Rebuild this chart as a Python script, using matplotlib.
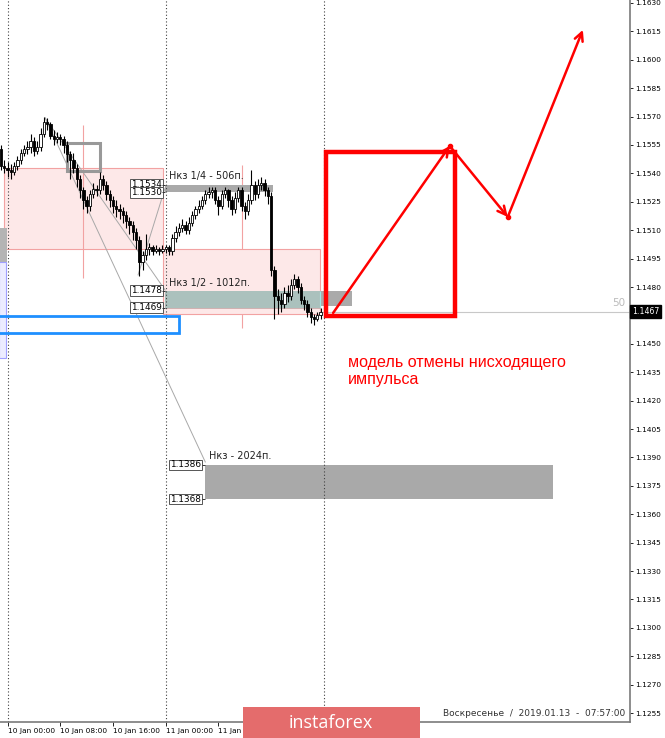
import matplotlib
matplotlib.use("Agg")
import matplotlib.pyplot as plt
from matplotlib.patches import Rectangle
import matplotlib.transforms as mtransforms
import numpy as np

# ---------------- data ----------------
# M30 candles, time in hours from 10 Jan 00:00
bar_start_hour = -1.0
bar_step_hours = 0.5
first_open = 1.1553
closes = [1.1544,1.1543,1.1542,1.1541,1.1544,1.1547,1.1551,1.1553,1.1554,1.1557,
          1.1552,1.1554,1.1561,1.1567,1.1566,1.1560,1.1558,1.1559,1.1558,1.1555,
          1.1550,1.1547,1.1543,1.1537,1.1531,1.1526,1.1523,1.1529,1.1532,1.1531,
          1.1537,1.1534,1.1529,1.1526,1.1523,1.1521,1.1520,1.1518,1.1515,1.1513,
          1.1509,1.1505,1.1493,1.1497,1.1500,1.1501,1.1499,1.1500,1.1499,1.1500,
          1.1501,1.1499,1.1506,1.1509,1.1511,1.1513,1.1510,1.1514,1.1518,1.1521,
          1.1523,1.1526,1.1529,1.1530,1.1531,1.1526,1.1523,1.1529,1.1531,1.1526,
          1.1521,1.1527,1.1531,1.1523,1.1520,1.1526,1.1534,1.1529,1.1534,1.1535,
          1.1531,1.1528,1.1489,1.1475,1.1473,1.1471,1.1477,1.1475,1.1481,1.1484,
          1.1480,1.1473,1.1471,1.1467,1.1464,1.1463,1.1465,1.1467]
highs = [1.1555,1.1547,1.1546,1.1545,1.1546,1.1549,1.1553,1.1555,1.1557,1.1561,
         1.1559,1.1557,1.1564,1.1570,1.1569,1.1567,1.1563,1.1562,1.1561,1.1560,
         1.1557,1.1552,1.1551,1.1545,1.1539,1.1533,1.1528,1.1531,1.1535,1.1534,
         1.1541,1.1539,1.1536,1.1531,1.1528,1.1526,1.1524,1.1522,1.1520,1.1517,
         1.1515,1.1511,1.1507,1.1499,1.1508,1.1503,1.1502,1.1502,1.1501,1.1502,
         1.1502,1.1502,1.1508,1.1512,1.1514,1.1516,1.1515,1.1517,1.1520,1.1523,
         1.1526,1.1528,1.1531,1.1533,1.1533,1.1533,1.1528,1.1531,1.1533,1.1532,
         1.1528,1.1530,1.1533,1.1533,1.1525,1.1529,1.1542,1.1536,1.1537,1.1538,
         1.1537,1.1533,1.1530,1.1491,1.1479,1.1477,1.1480,1.1481,1.1484,1.1487,
         1.1486,1.1482,1.1475,1.1473,1.1469,1.1466,1.1467,1.1469]
lows = [1.1542,1.1540,1.1538,1.1537,1.1539,1.1542,1.1545,1.1549,1.1550,1.1551,
        1.1549,1.1550,1.1552,1.1559,1.1563,1.1558,1.1555,1.1556,1.1555,1.1551,
        1.1546,1.1537,1.1540,1.1533,1.1527,1.1521,1.1519,1.1520,1.1527,1.1528,
        1.1529,1.1531,1.1526,1.1522,1.1519,1.1517,1.1516,1.1514,1.1511,1.1508,
        1.1505,1.1500,1.1486,1.1489,1.1494,1.1497,1.1497,1.1498,1.1497,1.1498,
        1.1498,1.1497,1.1497,1.1504,1.1507,1.1509,1.1508,1.1508,1.1512,1.1516,
        1.1519,1.1521,1.1524,1.1527,1.1527,1.1524,1.1518,1.1521,1.1527,1.1522,
        1.1518,1.1519,1.1525,1.1520,1.1516,1.1518,1.1524,1.1526,1.1527,1.1531,
        1.1528,1.1524,1.1486,1.1463,1.1466,1.1467,1.1469,1.1472,1.1473,1.1479,
        1.1477,1.1471,1.1468,1.1464,1.1461,1.1460,1.1462,1.1463]

price_ticks = [1.1255,1.1270,1.1285,1.1300,1.1315,1.1330,1.1345,1.1360,1.1375,1.1390,
               1.1405,1.1420,1.1435,1.1450,1.1465,1.1480,1.1495,1.1510,1.1525,1.1540,
               1.1555,1.1570,1.1585,1.1600,1.1615,1.1630]
time_ticks = [0, 8, 16, 24, 32]
time_labels = ["10 Jan 00:00", "10 Jan 08:00", "10 Jan 16:00", "11 Jan 00:00", "11 Jan 08:00"]
day_separators = [0, 24, 48]
current_price = 1.1467

level_q = (1.1534, 1.1530)     # Нкз 1/4
level_h = (1.1478, 1.1469)     # Нкз 1/2
level_f = (1.1386, 1.1368)     # Нкз
zone_upper = (1.1543, 1.1500)
zone_lower = (1.1500, 1.14658)

# red forecast path (hour, price)
path_h = [49.4, 67.1, 75.9, 87.3]
path_p = [1.14663, 1.15545, 1.15170, 1.16158]

# ---------------- figure ----------------
W, H = 665, 738
fig = plt.figure(figsize=(W/100, H/100), dpi=100)
ax = fig.add_axes([0, 16/H, 630/W, 722/H])
ax.set_xlim(-1.15, 94.45)
ax.set_ylim(1.125026, 1.163158)
ax.set_facecolor("white")

n = len(closes)
times = bar_start_hour + bar_step_hours*np.arange(n)
opens = np.array([first_open] + closes[:-1])
closes_a = np.array(closes)

pink_fill = "#fde8e8"
pink_edge = "#f2a2a2"

# zones
ax.add_patch(Rectangle((-0.5, zone_upper[1]), 24.1, zone_upper[0]-zone_upper[1],
                       fc=pink_fill, ec=pink_edge, lw=0.8, zorder=1))
ax.vlines(11.4, 1.14848, 1.15656, color=pink_edge, lw=0.8, zorder=1.5)
ax.vlines(35.6, 1.14584, 1.15445, color=pink_edge, lw=0.8, zorder=1.2)
ax.add_patch(Rectangle((23.6, zone_lower[1]), 23.8, zone_lower[0]-zone_lower[1],
                       fc=pink_fill, ec=pink_edge, lw=0.8, zorder=1.6))

# left-edge objects
ax.add_patch(Rectangle((-1.3, 1.14932), 1.15, 1.15112-1.14932, fc="#b4b4b4", ec="none", zorder=1.7))
ax.add_patch(Rectangle((-1.3, 1.14425), 1.0, 1.14932-1.14425, fc="#ececff", ec="#a0a0ff", lw=0.8, zorder=1.7))

# bands
ax.add_patch(Rectangle((23.9, level_q[1]), 16.4, level_q[0]-level_q[1], fc="#a9a9a9", ec="none", zorder=2))
ax.add_patch(Rectangle((47.4, 1.1470), 4.9, level_h[0]-1.1470, fc="#aaaaaa", ec="none", zorder=2))
ax.add_patch(Rectangle((23.9, level_h[1]), 23.5, level_h[0]-level_h[1], fc="#abc1bd", ec="none", zorder=2))
ax.vlines(47.4, level_h[1], level_h[0], color="#9ee8e8", lw=0.8, zorder=2.1)
ax.hlines(level_h[1], 23.9, 47.4, color="#c8a8a8", lw=0.6, zorder=2.1)
ax.add_patch(Rectangle((30.0, level_f[1]), 52.8, level_f[0]-level_f[1], fc="#a9a9a9", ec="none", zorder=2))

# current price line
ax.hlines(current_price, 47.4, 94.45, color="#c8c8c8", lw=0.8, zorder=2)

# day separators
ax.vlines(day_separators, 1.1250, 1.1632, color="#404040", lw=0.8, linestyles=(0, (1, 2)), zorder=2.5)

# gray diagonal lines
gl = dict(color="#a8a8a8", lw=0.7, zorder=2.6)
ax.plot([5.7, 30.0], [1.15693, 1.13876], **gl)
ax.plot([5.7, 23.9], [1.15693, 1.14784], **gl)
ax.plot([19.8, 23.9], [1.14864, 1.15323], **gl)

# blue rectangle
ax.add_patch(Rectangle((-2.0, 1.14557), 28.0, 1.14647-1.14557, fc="none", ec="#1e8fff", lw=2.0, zorder=3))

# gray box
ax.add_patch(Rectangle((9.0, 1.15413), 5.0, 1.15561-1.15413, fc="none", ec="#999999", lw=2.2, zorder=3))

# candles
ax.vlines(times, lows, highs, color="black", lw=0.8, zorder=4)
bottoms = np.minimum(opens, closes_a)
heights = np.maximum(np.abs(closes_a-opens), 0.00004)
colors = ["white" if c > o else "black" for o, c in zip(opens, closes_a)]
ax.bar(times, heights, bottom=bottoms, width=0.36, color=colors, edgecolor="black",
       linewidth=0.6, zorder=5)

# level labels
lab = dict(fontsize=6.4, ha="right", va="center", zorder=6, family="DejaVu Sans",
           bbox=dict(boxstyle="square,pad=0.1", fc="white", ec="#555555", lw=0.7))
for p in level_q + level_h:
    ax.text(23.4, p, f"{p:.4f}", **lab)
    ax.hlines(p, 23.5, 23.9, color="#333333", lw=0.7, zorder=6)
for p in level_f:
    ax.text(29.4, p, f"{p:.4f}", **lab)
    ax.hlines(p, 29.5, 30.0, color="#333333", lw=0.7, zorder=6)

tk = dict(fontsize=7, va="center", ha="left", color="#222222", zorder=6)
ax.text(24.5, 1.15387, "Нкз 1/4 - 506п.", **tk)
ax.text(24.5, 1.14821, "Нкз 1/2 - 1012п.", **tk)
ax.text(30.6, 1.13908, "Нкз - 2024п.", **tk)

# red model box and arrows
ax.add_patch(Rectangle((48.3, 1.14648), 67.9-48.3, 1.15513-1.14648, fc="none", ec="#ff0000", lw=3.2, zorder=7))
for i in range(len(path_h)-1):
    ax.annotate("", xy=(path_h[i+1], path_p[i+1]), xytext=(path_h[i], path_p[i]),
                arrowprops=dict(arrowstyle="->,head_length=0.6,head_width=0.3", color="#ff0000",
                                lw=1.8, shrinkA=0, shrinkB=0), zorder=8)
ax.plot(path_h[1:3], path_p[1:3], "o", color="#ff0000", ms=3, zorder=8)

ax.text(51.65, 1.14440, "модель отмены нисходящего\nимпульса", fontsize=11.6, color="#ff0000",
        family="Liberation Sans", va="top", ha="left", linespacing=1.12, zorder=8)

ax.text(93.8, 1.14716, "50", fontsize=7.5, color="#bbbbbb", ha="right", va="center", zorder=6)

# axes styling
for s in ["top", "left"]:
    ax.spines[s].set_visible(False)
for s in ["right", "bottom"]:
    ax.spines[s].set_color("#7a7a7a")
    ax.spines[s].set_linewidth(1.2)
ax.yaxis.tick_right()
ax.set_yticks(price_ticks)
ax.set_yticklabels([f"{p:.4f}" for p in price_ticks])
ax.tick_params(axis="y", direction="out", length=2.5, width=0.6, labelsize=5.3, pad=1.5, colors="black")
ax.set_xticks(time_ticks)
ax.set_xticklabels(time_labels, ha="left")
ax.tick_params(axis="x", direction="out", length=3, width=0.6, labelsize=5.3, pad=1.5)

# current price tag
trans = mtransforms.blended_transform_factory(ax.transAxes, ax.transData)
ax.text(1.003, current_price, f"{current_price:.4f}", transform=trans, fontsize=5.6, color="white",
        va="center", ha="left", clip_on=False, zorder=10,
        bbox=dict(boxstyle="square,pad=0.25", fc="black", ec="black"))

# footer and logo
fig.text(625/W, 1-714/H, "Воскресенье  /  2019.01.13  -  07:57:00", fontsize=6.5, color="#333333",
         va="center", ha="right")
logo = Rectangle((243/W, 0), 177/W, 31/H, transform=fig.transFigure, fc="#e46c6c", ec="none", zorder=20)
fig.add_artist(logo)
fig.text(331/W, 15/H, "instaforex", fontsize=13, color="white", ha="center", va="center",
         family="Open Sans", zorder=21)

fig.savefig("out.png", dpi=100)
